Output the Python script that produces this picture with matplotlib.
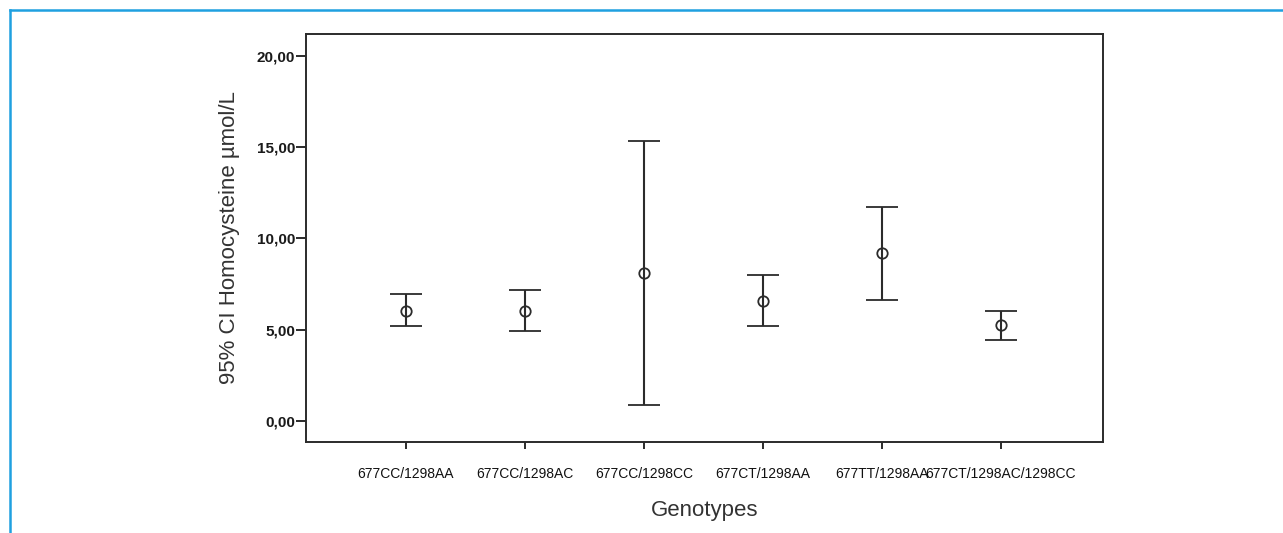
import numpy as np
import matplotlib
matplotlib.use("Agg")
import matplotlib.pyplot as plt
from matplotlib.lines import Line2D
from matplotlib.ticker import FuncFormatter

# ── Veri ─────────────────────────────────────────────────────────
genotypes = ["677CC/1298AA", "677CC/1298AC", "677CC/1298CC",
             "677CT/1298AA", "677TT/1298AA", "677CT/1298AC/1298CC"]
means = [6.05, 6.04, 8.09, 6.56, 9.19, 5.26]
ci_low = [5.22, 4.91, 0.88, 5.19, 6.65, 4.46]
ci_high = [6.94, 7.18, 15.34, 7.98, 11.74, 6.03]
y_ticks = [0, 5, 10, 15, 20]

plt.rcParams['font.family'] = ['Liberation Sans', 'DejaVu Sans']
ink = '#2b2b2b'

fig = plt.figure(figsize=(12.83, 5.33), dpi=100)
ax = fig.add_axes([0.2385, 0.1707, 0.6212, 0.7655])

x = np.arange(1, len(genotypes) + 1)
m = np.array(means)
yerr = [m - np.array(ci_low), np.array(ci_high) - m]
ax.errorbar(x, m, yerr=yerr, fmt='o', color=ink, mfc='none', mec=ink,
            ms=7.5, mew=1.3, elinewidth=1.5, capsize=11.2, capthick=1.5)

ax.set_xlim(0.16, 6.86)
ax.set_ylim(-1.15, 21.2)
ax.set_xticks(x)
ax.set_xticklabels(genotypes, fontsize=10, color='#111111')
ax.set_yticks(y_ticks)
ax.yaxis.set_major_formatter(FuncFormatter(lambda v, p: f"{v:.2f}".replace('.', ',')))
for lab in ax.get_yticklabels():
    lab.set_fontsize(11)
    lab.set_fontweight('bold')
    lab.set_color('#1a1a1a')

ax.tick_params(axis='y', length=7, width=1.4, color=ink, pad=1)
ax.tick_params(axis='x', length=5, width=1.4, color=ink, pad=13)
for s in ax.spines.values():
    s.set_color(ink)
    s.set_linewidth(1.4)

ax.set_xlabel('Genotypes', fontsize=16, color='#333333', labelpad=14)
ax.set_ylabel('95% CI Homocysteine µmol/L', fontsize=16, color='#333333', labelpad=12)

# Mavi çerçeve (üst ve sol)
blue = '#1fa0e0'
fig.add_artist(Line2D([0.0078, 1.0], [0.981, 0.981], color=blue, lw=1.8,
                      transform=fig.transFigure))
fig.add_artist(Line2D([0.0078, 0.0078], [0.981, 0.0], color=blue, lw=1.8,
                      transform=fig.transFigure))

fig.savefig('out.png', dpi=100)
